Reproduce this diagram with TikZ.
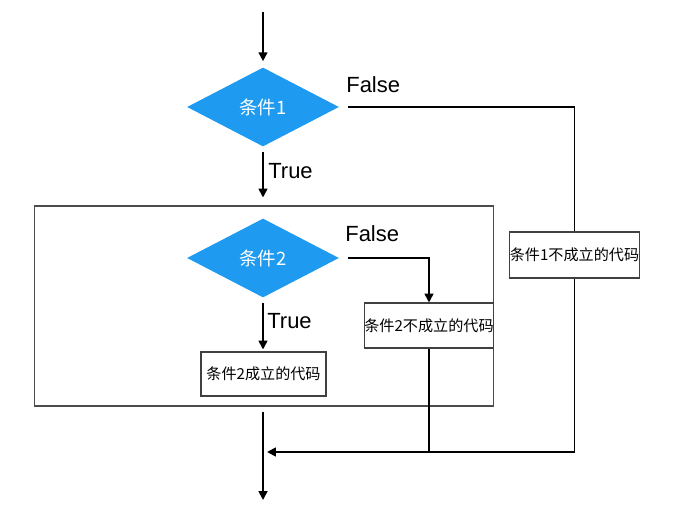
\documentclass[tikz,border=0pt]{standalone}
\usepackage{fontspec}
\setmainfont{Noto Sans CJK SC}
\newfontfamily\labelfont{Liberation Sans}
\usetikzlibrary{shapes.geometric,arrows.meta}
\definecolor{condblue}{RGB}{30,155,240}

\begin{document}
\begin{tikzpicture}[x=0.02cm,y=-0.02cm,
  cond/.style={diamond,fill=condblue,text=white,aspect=1.92,minimum width=3.04cm,minimum height=1.58cm,inner sep=0pt,font=\fontsize{10.5}{12}\selectfont},
  code/.style={draw=black!75,line width=0.6pt,inner sep=0pt,font=\fontsize{8.6}{10}\selectfont},
  flow/.style={line width=1pt,-{Triangle[length=5pt,width=5pt]}},
  link/.style={line width=1pt},
  lbl/.style={anchor=base west,inner sep=0pt,font=\labelfont\fontsize{12.5}{14}\selectfont}]
\useasboundingbox (0,0) rectangle (676,509);

% decisions
\node[cond] (c1) at (263,107) {条件1};
\node[draw=black!70,line width=0.6pt,minimum width=9.2cm,minimum height=4cm,inner sep=0pt] (frame) at (264,306) {};
\node[cond] (c2) at (263,258) {条件2};

% code blocks
\node[code,minimum width=2.46cm,minimum height=0.92cm] (nocode1) at (574.5,255) {条件1不成立的代码};
\node[code,minimum width=2.48cm,minimum height=0.9cm] (nocode2) at (429,325.5) {条件2不成立的代码};
\node[code,minimum width=2.5cm,minimum height=0.88cm] (yescode2) at (263.5,374) {条件2成立的代码};

% labels
\node[lbl] (f1) at (346,93) {False};
\node[lbl] (t1) at (268,179) {True};
\node[lbl] (f2) at (345,242) {False};
\node[lbl] (t2) at (267,329) {True};

\coordinate (start) at (263,12);
\coordinate (join) at (263,452);
\coordinate (stop) at (263,500);

% connectors
\draw[flow,shorten >=0.12cm] (start) -- (c1.north);
\draw[flow,shorten <=0.1cm,shorten >=0.16cm] (c1.south) -- (c1.south |- frame.north);
\draw[link,shorten <=0.18cm] (c1.east) -| (nocode1.north);
\draw[flow,shorten >=0.08cm] (nocode1.south) |- (join);
\draw[flow,shorten <=0.18cm] (c2.east) -| (nocode2.north);
\draw[flow,shorten <=0.1cm,shorten >=0.04cm] (c2.south) -- (yescode2.north -| c2.south);
\draw[link] (nocode2.south) -- (nocode2.south |- join);
\draw[flow,shorten <=0.1cm] (c1 |- frame.south) -- (stop);
\end{tikzpicture}
\end{document}
